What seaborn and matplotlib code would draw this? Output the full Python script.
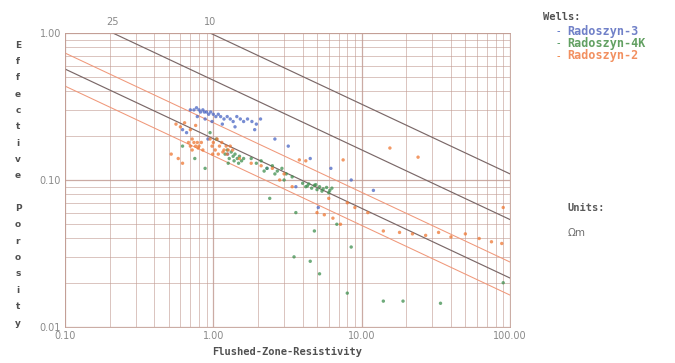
import numpy as np
import pandas as pd
import matplotlib
matplotlib.use("Agg")
import matplotlib.pyplot as plt
import matplotlib.ticker as mticker
import seaborn as sns

# Pickett-type lines: Rxo at phi = 1 for each line, cementation exponent
line_rxo_at_phi1 = [0.21, 0.95, 0.0516, 0.0304, 0.0173]
line_kind = ["dark", "dark", "orange", "dark", "orange"]
line_label = ["25", "10", "", "", ""]
cementation_m = 2.11

wells = ["Radoszyn-3", "Radoszyn-4K", "Radoszyn-2"]

rxo_r3 = [0.70, 0.74, 0.77, 0.80, 0.82, 0.85, 0.87, 0.90, 0.93, 0.96,
          1.00, 1.04, 1.08, 1.12, 1.18, 1.24, 1.30, 1.36, 1.44, 1.52,
          1.60, 1.70, 1.82, 1.95, 2.08, 0.78, 0.88, 0.98, 1.15, 1.40,
          0.62, 0.66, 1.90, 2.60, 3.20, 4.50, 6.20, 8.50, 12.0, 2.30,
          3.60, 5.10, 0.92, 1.25]
phi_r3 = [0.30, 0.30, 0.31, 0.30, 0.29, 0.30, 0.29, 0.29, 0.28, 0.29,
          0.28, 0.27, 0.28, 0.27, 0.26, 0.27, 0.26, 0.25, 0.27, 0.26,
          0.25, 0.26, 0.25, 0.24, 0.26, 0.27, 0.26, 0.25, 0.24, 0.23,
          0.22, 0.21, 0.22, 0.19, 0.17, 0.14, 0.12, 0.10, 0.085, 0.12,
          0.09, 0.065, 0.19, 0.15]

rxo_r4k = [1.20, 1.24, 1.28, 1.32, 1.36, 1.40, 1.45, 1.50, 1.55, 1.60,
           1.26, 1.38, 1.48, 1.80, 1.95, 2.10, 2.30, 2.50, 2.70, 2.90,
           3.10, 3.40, 2.20, 2.60, 3.00, 4.00, 4.20, 4.40, 4.60, 4.80,
           5.00, 5.20, 5.50, 5.80, 6.10, 6.30, 4.30, 4.90, 5.40, 6.00,
           0.62, 0.75, 0.88, 1.05, 0.95, 2.40, 3.60, 4.80, 6.80, 8.50,
           5.20, 8.0, 14.0, 19.0, 34.0, 90.0, 3.5, 4.5]
phi_r4k = [0.15, 0.16, 0.14, 0.155, 0.145, 0.15, 0.14, 0.145, 0.135, 0.14,
           0.13, 0.135, 0.13, 0.14, 0.13, 0.135, 0.12, 0.125, 0.115, 0.12,
           0.11, 0.105, 0.115, 0.11, 0.10, 0.095, 0.09, 0.094, 0.088, 0.092,
           0.086, 0.09, 0.087, 0.089, 0.085, 0.088, 0.091, 0.093, 0.084, 0.082,
           0.17, 0.14, 0.12, 0.19, 0.21, 0.075, 0.06, 0.045, 0.05, 0.035,
           0.023, 0.017, 0.015, 0.015, 0.0145, 0.02, 0.03, 0.028]

rxo_r2 = [0.68, 0.70, 0.72, 0.74, 0.76, 0.78, 0.80, 0.83, 0.85, 0.95,
          0.98, 1.00, 1.03, 1.06, 1.10, 1.14, 1.18, 1.22, 1.26, 1.30,
          1.35, 0.99, 1.08, 1.16, 1.24, 0.72, 0.79, 0.56, 0.60, 0.64,
          0.70, 0.76, 0.52, 0.58, 0.62, 1.50, 1.80, 2.10, 2.50, 3.00,
          3.80, 4.20, 5.00, 5.60, 6.40, 7.20, 8.00, 9.00, 11.0, 14.0,
          18.0, 22.0, 27.0, 33.0, 40.0, 50.0, 62.0, 75.0, 88.0, 15.5,
          24.0, 7.5, 90.0, 3.4, 2.8, 6.0]
phi_r2 = [0.18, 0.17, 0.19, 0.18, 0.17, 0.18, 0.17, 0.18, 0.16, 0.19,
          0.17, 0.18, 0.16, 0.19, 0.17, 0.18, 0.16, 0.17, 0.16, 0.17,
          0.16, 0.15, 0.15, 0.155, 0.15, 0.16, 0.165, 0.24, 0.23, 0.245,
          0.22, 0.235, 0.15, 0.14, 0.13, 0.14, 0.13, 0.125, 0.12, 0.11,
          0.137, 0.135, 0.06, 0.058, 0.055, 0.05, 0.07, 0.065, 0.06, 0.045,
          0.044, 0.043, 0.042, 0.044, 0.041, 0.043, 0.04, 0.038, 0.037, 0.165,
          0.143, 0.137, 0.065, 0.09, 0.10, 0.075]

x_ticks = [0.1, 1, 10, 100]
y_ticks = [0.01, 0.1, 1]

df = pd.concat([
    pd.DataFrame({"rxo": rxo_r3, "phi": phi_r3, "well": wells[0]}),
    pd.DataFrame({"rxo": rxo_r4k, "phi": phi_r4k, "well": wells[1]}),
    pd.DataFrame({"rxo": rxo_r2, "phi": phi_r2, "well": wells[2]}),
])

colors = {"Radoszyn-3": "#4a66c4", "Radoszyn-4K": "#3f8f4f", "Radoszyn-2": "#ee7733"}
text_colors = {"Radoszyn-3": "#7080c8", "Radoszyn-4K": "#62a062", "Radoszyn-2": "#f29060"}
line_colors = {"dark": "#7a6868", "orange": "#f0987a"}
grid_color = "#c29d94"

sns.set_theme(style="white")
fig = plt.figure(figsize=(6.75, 3.63), dpi=100)
ax = fig.add_axes([65 / 675, 1 - 327 / 363, 445 / 675, 294 / 363])

ax.set_xscale("log")
ax.set_yscale("log")
ax.set_xlim(0.1, 100)
ax.set_ylim(0.01, 1)

ax.grid(True, which="major", color=grid_color, lw=0.9, alpha=0.85)
ax.grid(True, which="minor", color=grid_color, lw=0.6, alpha=0.7)
ax.set_axisbelow(True)

phi_line = np.logspace(-2, 0, 50)
for x0, kind, lab in zip(line_rxo_at_phi1, line_kind, line_label):
    ax.plot(x0 * phi_line ** (-cementation_m), phi_line,
            color=line_colors[kind], lw=0.85 if kind == "dark" else 0.75, zorder=2)
    if lab:
        ax.annotate(lab, (x0, 1), xytext=(0, 4), textcoords="offset points",
                    ha="center", va="bottom", fontsize=7, color="#888888",
                    annotation_clip=False)

sns.scatterplot(data=df, x="rxo", y="phi", hue="well", palette=colors,
                s=6, linewidth=0, alpha=0.75, legend=False, ax=ax, zorder=3)

ax.xaxis.set_major_locator(mticker.FixedLocator(x_ticks))
ax.yaxis.set_major_locator(mticker.FixedLocator(y_ticks))
ax.xaxis.set_major_formatter(mticker.FuncFormatter(lambda v, p: f"{v:.2f}"))
ax.yaxis.set_major_formatter(mticker.FuncFormatter(lambda v, p: f"{v:.2f}"))
ax.xaxis.set_minor_locator(mticker.LogLocator(base=10, subs=np.arange(2, 10)))
ax.yaxis.set_minor_locator(mticker.LogLocator(base=10, subs=np.arange(2, 10)))
ax.xaxis.set_minor_formatter(mticker.NullFormatter())
ax.yaxis.set_minor_formatter(mticker.NullFormatter())
ax.tick_params(axis="both", which="both", length=0, labelsize=7, labelcolor="#8a8a8a", pad=3)
for sp in ax.spines.values():
    sp.set_color(grid_color)
    sp.set_linewidth(0.6)
ax.set_xlabel("")
ax.set_ylabel("")

# x label
fig.text(287 / 675, 1 - 352 / 363, "Flushed-Zone-Resistivity", ha="center", va="center",
         fontsize=7.5, fontweight="bold", family="DejaVu Sans Mono", color="#505050")

# y label, stacked letters
ylab = "Effective Porosity"
n = len(ylab)
for i, ch in enumerate(ylab):
    if ch == " ":
        continue
    ypx = 45 + i * (323 - 45) / (n - 1)
    fig.text(18 / 675, 1 - ypx / 363, ch, ha="center", va="center",
             fontsize=6.5, fontweight="bold", color="#505050")

# wells legend
fig.text(543 / 675, 1 - 17 / 363, "Wells:", ha="left", va="center",
         fontsize=7.5, fontweight="bold", family="DejaVu Sans Mono", color="#505050")
for i, w in enumerate(wells):
    ypx = 31 + i * 12.5
    fig.text(557 / 675, 1 - ypx / 363, "-", ha="left", va="center",
             fontsize=7, color=colors[w])
    fig.text(567 / 675, 1 - ypx / 363, w, ha="left", va="center",
             fontsize=8.5, fontweight="bold", family="DejaVu Sans Mono", color=text_colors[w])

fig.text(568 / 675, 1 - 208 / 363, "Units:", ha="left", va="center",
         fontsize=7.5, fontweight="bold", family="DejaVu Sans Mono", color="#5a5a5a")
fig.text(568 / 675, 1 - 233 / 363, "Ωm", ha="left", va="center",
         fontsize=7.5, color="#707070")

fig.savefig("out.png", dpi=100)
